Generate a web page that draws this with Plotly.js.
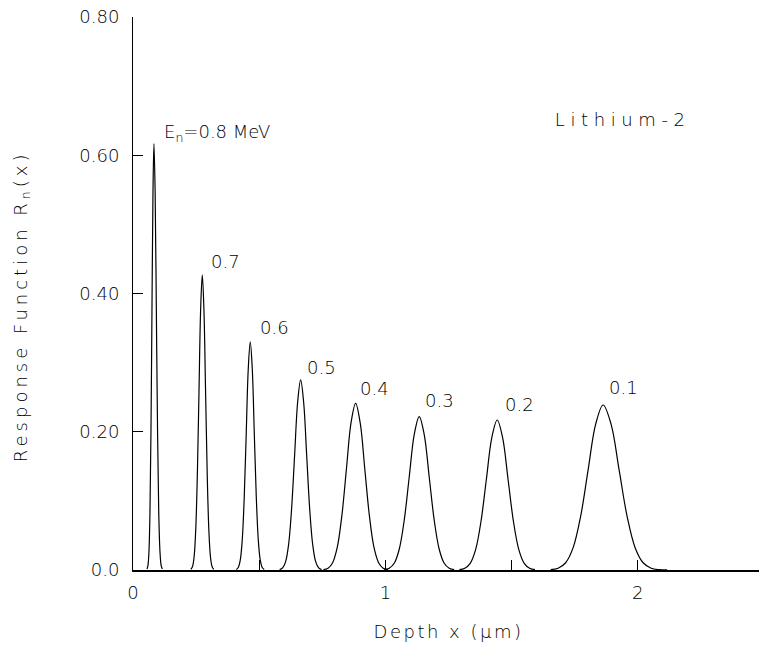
<!DOCTYPE html>
<html>
<head>
<meta charset="utf-8">
<script src="https://cdn.plot.ly/plotly-3.0.1.min.js"></script>
<style>
  html, body { margin: 0; padding: 0; overflow: hidden; background: #fff; }
  #chart { width: 765px; height: 646px; }
  .xtitle { letter-spacing: 2.5px; }
  .annotation[data-index="8"] text { letter-spacing: 5.6px; }
  .annotation[data-index="9"] text { letter-spacing: 4px; }
</style>
</head>
<body>
<div id="chart"></div>
<script>
// ---- data ----
const xTickVals = [0, 1, 2];
const xTickText = ['0', '1', '2'];
const xMinorStep = 0.5;
const yTickVals = [0, 0.2, 0.4, 0.6, 0.8];
const yTickText = ['0.0', '0.20', '0.40', '0.60', '0.80'];

const energies = ['0.8', '0.7', '0.6', '0.5', '0.4', '0.3', '0.2', '0.1'];

const peak08X = [0.0554, 0.0593, 0.0633, 0.0672, 0.0712, 0.0751, 0.0791, 0.083, 0.0878, 0.0925, 0.0973, 0.102, 0.1068, 0.1115, 0.1163];
const peak08Y = [0.0014, 0.0068, 0.0271, 0.0835, 0.2003, 0.3742, 0.5445, 0.617, 0.5445, 0.3742, 0.2003, 0.0835, 0.0271, 0.0068, 0.0014];

const peak07X = [0.229, 0.2355, 0.242, 0.2485, 0.255, 0.2615, 0.268, 0.2745, 0.281, 0.2875, 0.294, 0.3005, 0.307, 0.3135, 0.32];
const peak07Y = [0.0009, 0.0047, 0.0187, 0.0578, 0.1386, 0.259, 0.3768, 0.427, 0.3768, 0.259, 0.1386, 0.0578, 0.0187, 0.0047, 0.0009];

const peak06X = [0.4093, 0.4172, 0.4251, 0.433, 0.4409, 0.4488, 0.4567, 0.4646, 0.4725, 0.4804, 0.4883, 0.4962, 0.5041, 0.512, 0.5199];
const peak06Y = [0.0007, 0.0037, 0.0145, 0.0446, 0.1072, 0.2001, 0.2912, 0.33, 0.2912, 0.2001, 0.1072, 0.0446, 0.0145, 0.0037, 0.0007];

const peak05X = [0.5809, 0.5928, 0.6047, 0.6166, 0.6285, 0.6404, 0.6523, 0.6642, 0.6761, 0.688, 0.6999, 0.7118, 0.7237, 0.7356, 0.7475];
const peak05Y = [0.0006, 0.0031, 0.0121, 0.0372, 0.0893, 0.1668, 0.2427, 0.275, 0.2427, 0.1668, 0.0893, 0.0372, 0.0121, 0.0031, 0.0006];

const peak04X = [0.7546, 0.7728, 0.791, 0.8092, 0.8274, 0.8456, 0.8638, 0.882, 0.9002, 0.9184, 0.9366, 0.9548, 0.973, 0.9912, 1.0094];
const peak04Y = [0.0005, 0.0027, 0.0106, 0.0326, 0.0783, 0.1462, 0.2127, 0.241, 0.2127, 0.1462, 0.0783, 0.0326, 0.0106, 0.0027, 0.0005];

const peak03X = [0.9954, 1.0152, 1.035, 1.0548, 1.0746, 1.0944, 1.1142, 1.134, 1.1538, 1.1736, 1.1934, 1.2132, 1.233, 1.2528, 1.2726];
const peak03Y = [0.0005, 0.0025, 0.0097, 0.03, 0.0721, 0.1346, 0.1959, 0.222, 0.1959, 0.1346, 0.0721, 0.03, 0.0097, 0.0025, 0.0005];

const peak02X = [1.2932, 1.3146, 1.336, 1.3574, 1.3788, 1.4002, 1.4216, 1.443, 1.4644, 1.4858, 1.5072, 1.5286, 1.55, 1.5714, 1.5928];
const peak02Y = [0.0005, 0.0024, 0.0095, 0.0294, 0.0705, 0.1316, 0.1915, 0.217, 0.1915, 0.1316, 0.0705, 0.0294, 0.0095, 0.0024, 0.0005];

const peak01X = [1.6547, 1.6844, 1.7141, 1.7438, 1.7735, 1.8032, 1.8329, 1.8626, 1.8943, 1.926, 1.9577, 1.9894, 2.0211, 2.0528, 2.0845, 2.1162];
const peak01Y = [0.0005, 0.0026, 0.0105, 0.0323, 0.0775, 0.1448, 0.2107, 0.2387, 0.2107, 0.1448, 0.0775, 0.0323, 0.0105, 0.0026, 0.0005, 0.0001];

// label anchor positions (left edge x, vertical centre y) in data units
const labelX = [0.115, 0.303, 0.495, 0.681, 0.891, 1.1485, 1.4653, 1.879];
const labelY = [0.632, 0.447, 0.3515, 0.293, 0.2626, 0.2452, 0.2401, 0.2647];

const plotTitle = 'Lithium-2';
const xTitle = 'Depth x (\u03bcm)';
const yTitle = 'Response Function R<sub>n</sub>(x)';

// ---- build figure ----
const peaksX = [peak08X, peak07X, peak06X, peak05X, peak04X, peak03X, peak02X, peak01X];
const peaksY = [peak08Y, peak07Y, peak06Y, peak05Y, peak04Y, peak03Y, peak02Y, peak01Y];

const FONT = 'DejaVu Sans, sans-serif';
const fnt = { family: FONT, size: 18, color: '#000', weight: 200 };

const traces = peaksX.map((xs, i) => ({
  x: xs, y: peaksY[i], type: 'scatter', mode: 'lines',
  line: { color: '#000', width: 1.2, shape: 'spline', smoothing: 1 },
  hoverinfo: 'skip', showlegend: false
}));

const annotations = energies.map((e, i) => ({
  x: labelX[i], y: labelY[i], xref: 'x', yref: 'y',
  text: i === 0 ? 'E<sub>n</sub>=' + e + ' MeV' : e,
  showarrow: false, xanchor: 'left', yanchor: 'middle',
  font: fnt
}));
annotations.push({
  x: 1.94, y: 0.6524, xref: 'x', yref: 'y', text: plotTitle,
  showarrow: false, xanchor: 'center', yanchor: 'middle',
  font: fnt
});
annotations.push({
  x: -0.176, y: 0.477, xref: 'paper', yref: 'paper', text: yTitle,
  textangle: -90, showarrow: false, xanchor: 'center', yanchor: 'middle',
  font: fnt
});

const minorX = { tick0: 0, dtick: xMinorStep, ticks: 'inside', ticklen: 10, tickwidth: 1, tickcolor: '#000', showgrid: false };

const layout = {
  width: 765, height: 646,
  margin: { l: 133, r: 1, t: 17, b: 76 },
  paper_bgcolor: '#fff', plot_bgcolor: '#fff',
  font: fnt,
  showlegend: false,
  xaxis: {
    range: [0, 2.5], tickmode: 'array', tickvals: xTickVals, ticktext: xTickText,
    ticks: 'inside', ticklen: 10, tickwidth: 1, tickcolor: '#000',
    minor: minorX,
    showline: true, linewidth: 2, linecolor: '#000',
    showgrid: false, zeroline: false, ticklabelstandoff: 5,
    tickfont: fnt,
    title: { text: xTitle, font: fnt, standoff: 24 }
  },
  yaxis: {
    range: [0, 0.8], tickmode: 'array', tickvals: yTickVals, ticktext: yTickText,
    ticks: 'inside', ticklen: 10, tickwidth: 1, tickcolor: '#000',
    showline: true, linewidth: 1, linecolor: '#000',
    showgrid: false, zeroline: false, ticklabelstandoff: 9,
    tickfont: fnt
  },
  xaxis2: {
    overlaying: 'x', anchor: 'y', side: 'top', range: [0, 2.5],
    tickmode: 'array', tickvals: xTickVals, ticks: 'inside', ticklen: 10, tickwidth: 1, tickcolor: '#000',
    minor: minorX,
    showline: true, linewidth: 1, linecolor: '#000', showticklabels: false,
    showgrid: false, zeroline: false
  },
  yaxis2: {
    overlaying: 'y', anchor: 'x', side: 'right', range: [0, 0.8],
    tickmode: 'array', tickvals: yTickVals, ticks: 'inside', ticklen: 10, tickwidth: 1, tickcolor: '#000',
    showline: true, linewidth: 1, linecolor: '#000', showticklabels: false,
    showgrid: false, zeroline: false
  },
  annotations: annotations
};

Plotly.newPlot('chart', traces, layout, { staticPlot: true, displayModeBar: false });
</script>
</body>
</html>
